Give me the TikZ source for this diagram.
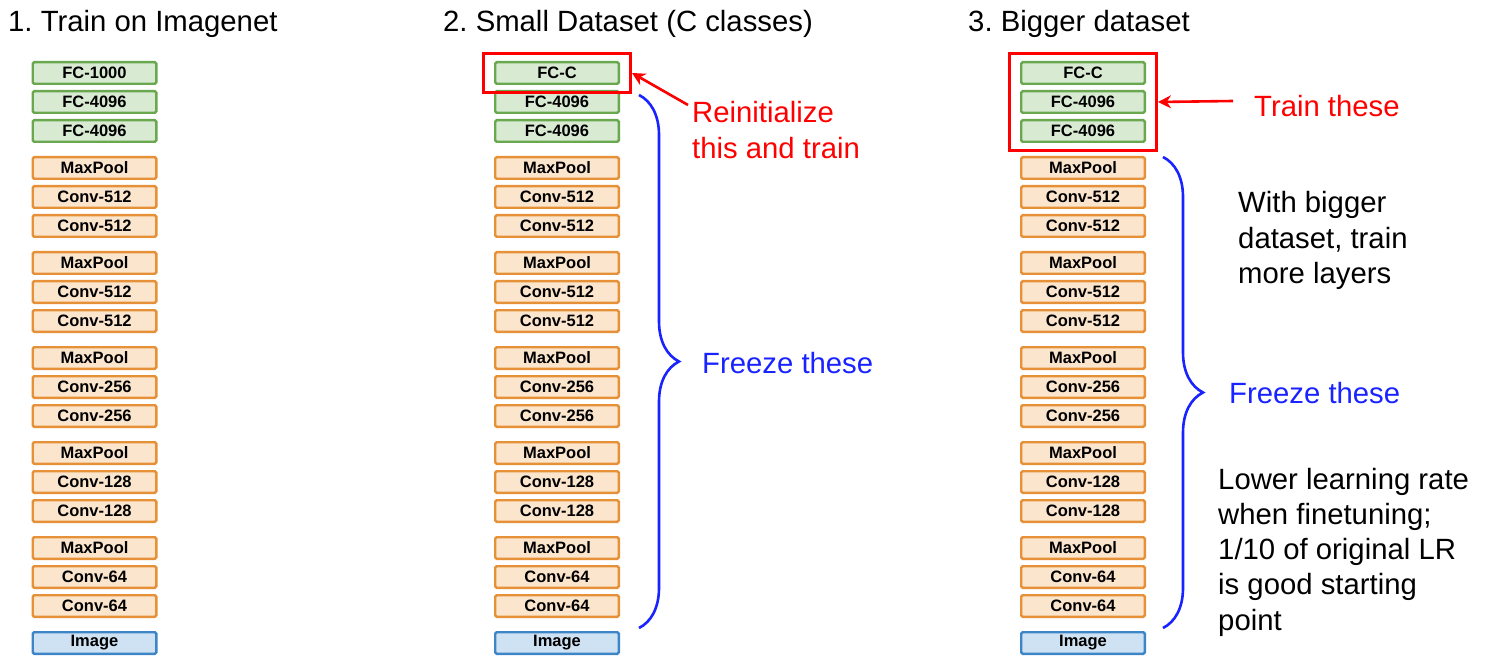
\documentclass[tikz,border=0pt]{standalone}
\usepackage{fontspec}
\setmainfont{Liberation Sans}
\frenchspacing
\usetikzlibrary{arrows.meta,fit}
\usetikzlibrary{decorations.pathreplacing}
\definecolor{node_green}{RGB}{217,234,211}
\definecolor{edge_green}{RGB}{106,168,79}
\definecolor{node_orange}{RGB}{252,229,205}
\definecolor{edge_orange}{RGB}{230,145,56}
\definecolor{node_blue}{RGB}{207,226,243}
\definecolor{edge_blue}{RGB}{61,133,198}
\definecolor{mark_red}{RGB}{255,0,0}
\definecolor{mark_blue}{RGB}{25,35,255}

\begin{document}
\begin{tikzpicture}[x=1pt,y=-1pt,>={Stealth[length=13pt,width=13pt]}]
    \tikzstyle{blk}=[draw, line width=2.4pt, rounded corners=1.5pt, minimum width=123.6pt, minimum height=21.6pt, inner sep=0pt, font=\fontsize{16.5}{18}\selectfont\bfseries]
    \tikzstyle{fc}=[style=blk, fill=node_green, draw=edge_green]
    \tikzstyle{conv}=[style=blk, fill=node_orange, draw=edge_orange]
    \tikzstyle{img}=[style=blk, fill=node_blue, draw=edge_blue]
    \tikzstyle{head}=[anchor=base west, inner sep=0pt, font=\fontsize{29.3}{35.3}\selectfont]
    \tikzstyle{note}=[style=head, align=left]
    \tikzstyle{trainbox}=[draw=mark_red, line width=3pt, inner xsep=10.5pt, inner ysep=7.5pt]
    \tikzstyle{freeze}=[draw=mark_blue, line width=2.6pt, decorate, decoration={brace, amplitude=40pt}]

    \useasboundingbox (0,0) rectangle (1488,668);

    \node[head] (t1) at (8,32)   {1. Train on Imagenet};
    \node[head] (t2) at (443,32) {2. Small Dataset (C classes)};
    \node[head] (t3) at (968,32) {3. Bigger dataset};

    % the three VGG stacks
    \foreach \col/\x/\fcl in {a/94.5/FC-1000, b/557/FC-C, c/1083/FC-C} {
        \node[fc] (\col1) at (\x,73)  {\fcl};
        \node[fc] (\col2) at (\x,102) {FC-4096};
        \node[fc] (\col3) at (\x,131) {FC-4096};
        \foreach \n/\y/\lbl in {4/168/MaxPool, 5/197/Conv-512, 6/226/Conv-512,
                                7/263/MaxPool, 8/292/Conv-512, 9/321/Conv-512,
                                10/358/MaxPool, 11/387/Conv-256, 12/416/Conv-256,
                                13/453/MaxPool, 14/482/Conv-128, 15/511/Conv-128,
                                16/548/MaxPool, 17/577/Conv-64, 18/606/Conv-64}
            \node[conv] (\col\n) at (\x,\y) {\lbl};
        \node[img] (\col19) at (\x,643) {Image};
    }

    % small dataset
    \node[trainbox, fit=(b1)] (rb2) {};
    \node[note, text=mark_red] (re) at (692,158.3) {Reinitialize\\this and train};
    \coordinate (r2) at (688,105);
    \draw[->, mark_red, line width=2.6pt] (r2) -- (rb2.east);
    \draw[freeze] (639,95) -- (639,628);
    \node[head, text=mark_blue] (fz2) at (702,373) {Freeze these};

    % bigger dataset
    \node[trainbox, fit=(c1)(c3)] (rb3) {};
    \node[head, text=mark_red] (tr) at (1254,117) {Train these};
    \coordinate (r3) at (1233,101);
    \draw[->, mark_red, line width=2.6pt] (r3) -- (rb3.east);
    \draw[freeze] (1163,157) -- (1163,628);
    \node[head, text=mark_blue] (fz3) at (1229,403) {Freeze these};
    \node[note] (wb) at (1238,283.6) {With bigger\\dataset, train\\more layers};
    \node[note] (lr) at (1218,630.2) {Lower learning rate\\when finetuning;\\1/10 of original LR\\is good starting\\point};
\end{tikzpicture}
\end{document}
